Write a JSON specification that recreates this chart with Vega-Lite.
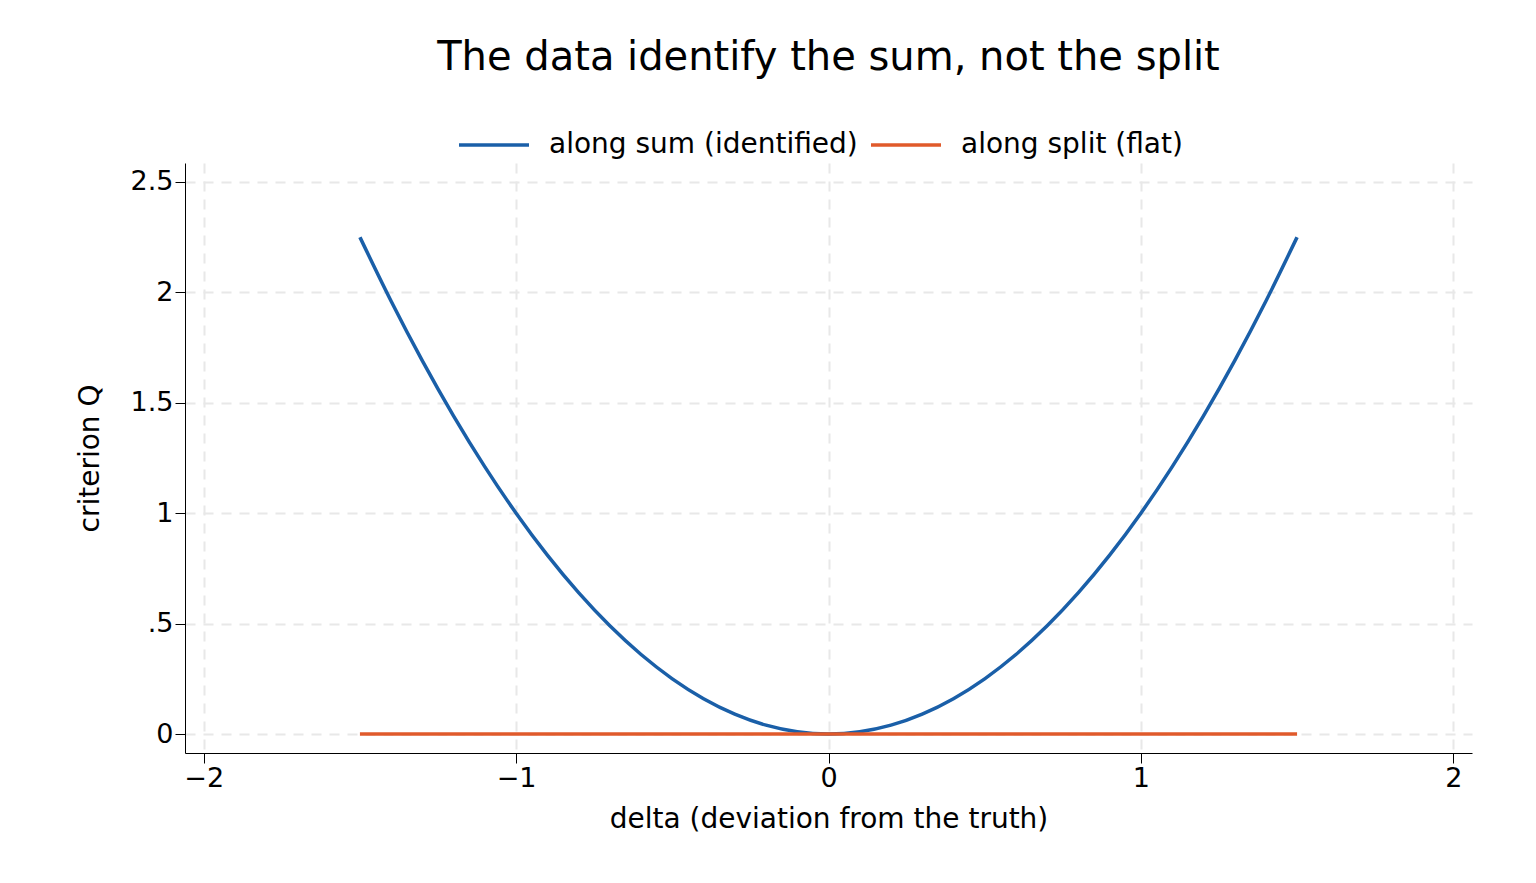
{
"$schema":"https://vega.github.io/schema/vega-lite/v6.json",
"width":1287,"height":590,
"autosize":{"type":"none"},
"padding":{"left":185,"top":163,"right":64,"bottom":130},
"background":"white",
"config":{"font":"DejaVu Sans","view":{"stroke":null}},
"title":{"text":"The data identify the sum, not the split","fontSize":40,"fontWeight":"normal","anchor":"middle","offset":30,"color":"black"},
"data":{"values":[
{"d":-1.5,"q":2.25,"s":"along sum (identified)"},{"d":-1.4,"q":1.96,"s":"along sum (identified)"},{"d":-1.3,"q":1.69,"s":"along sum (identified)"},{"d":-1.2,"q":1.44,"s":"along sum (identified)"},{"d":-1.1,"q":1.21,"s":"along sum (identified)"},{"d":-1.0,"q":1.0,"s":"along sum (identified)"},{"d":-0.9,"q":0.81,"s":"along sum (identified)"},{"d":-0.8,"q":0.64,"s":"along sum (identified)"},{"d":-0.7,"q":0.49,"s":"along sum (identified)"},{"d":-0.6,"q":0.36,"s":"along sum (identified)"},{"d":-0.5,"q":0.25,"s":"along sum (identified)"},{"d":-0.4,"q":0.16,"s":"along sum (identified)"},{"d":-0.3,"q":0.09,"s":"along sum (identified)"},{"d":-0.2,"q":0.04,"s":"along sum (identified)"},{"d":-0.1,"q":0.01,"s":"along sum (identified)"},{"d":0,"q":0,"s":"along sum (identified)"},{"d":0.1,"q":0.01,"s":"along sum (identified)"},{"d":0.2,"q":0.04,"s":"along sum (identified)"},{"d":0.3,"q":0.09,"s":"along sum (identified)"},{"d":0.4,"q":0.16,"s":"along sum (identified)"},{"d":0.5,"q":0.25,"s":"along sum (identified)"},{"d":0.6,"q":0.36,"s":"along sum (identified)"},{"d":0.7,"q":0.49,"s":"along sum (identified)"},{"d":0.8,"q":0.64,"s":"along sum (identified)"},{"d":0.9,"q":0.81,"s":"along sum (identified)"},{"d":1.0,"q":1.0,"s":"along sum (identified)"},{"d":1.1,"q":1.21,"s":"along sum (identified)"},{"d":1.2,"q":1.44,"s":"along sum (identified)"},{"d":1.3,"q":1.69,"s":"along sum (identified)"},{"d":1.4,"q":1.96,"s":"along sum (identified)"},{"d":1.5,"q":2.25,"s":"along sum (identified)"},
{"d":-1.5,"q":0,"s":"along split (flat)"},{"d":0,"q":0,"s":"along split (flat)"},{"d":1.5,"q":0,"s":"along split (flat)"}
]},
"mark":{"type":"line","strokeWidth":3.5,"interpolate":"monotone","clip":true},
"encoding":{
"x":{"field":"d","type":"quantitative","scale":{"domain":[-2.06,2.06],"nice":false,"zero":false},
 "axis":{"values":[-2,-1,0,1,2],"labelExpr":"format(datum.value,'d')","title":"delta (deviation from the truth)","titleFontSize":28,"titleFontWeight":"normal","titleColor":"black","titlePadding":14,"labelFontSize":27,"labelColor":"black","domainColor":"black","tickColor":"black","tickSize":10,"gridDash":[10,8],"gridColor":"#e8e8e8","gridWidth":2}},
"y":{"field":"q","type":"quantitative","scale":{"domain":[-0.086,2.586],"nice":false,"zero":false},
 "axis":{"values":[0,0.5,1,1.5,2,2.5],"labelExpr":"datum.value==0.5?'.5':format(datum.value,'~g')","title":"criterion Q","titleFontSize":28,"titleFontWeight":"normal","titleColor":"black","titlePadding":26,"labelFontSize":27,"labelColor":"black","domainColor":"black","tickColor":"black","tickSize":10,"gridDash":[10,8],"gridColor":"#e8e8e8","gridWidth":2}},
"color":{"field":"s","type":"nominal","sort":["along sum (identified)","along split (flat)"],"scale":{"range":["#1a5fa8","#e05a2b"]},
 "legend":{"title":null,"orient":"none","direction":"horizontal","legendX":272,"legendY":-55,"labelFontSize":28,"labelColor":"black","labelLimit":500,"symbolType":"stroke","symbolSize":4900,"symbolStrokeWidth":3.5,"columnPadding":6,"labelOffset":18}}
}
}
